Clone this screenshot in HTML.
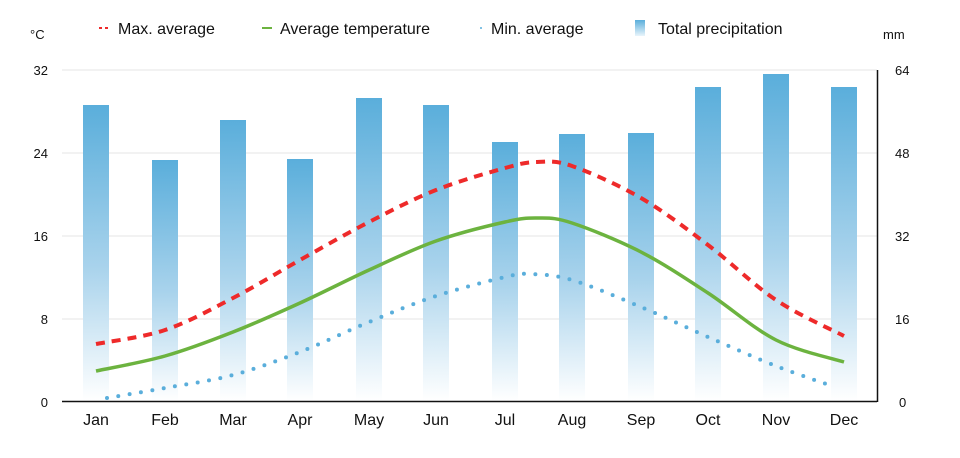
<!DOCTYPE html>
<html><head><meta charset="utf-8"><style>
html,body{margin:0;padding:0;background:#fff;width:960px;height:458px;overflow:hidden}
svg text{font-family:"Liberation Sans","DejaVu Sans",sans-serif;fill:#111}
</style></head><body>
<svg id="s" width="960" height="458" xmlns="http://www.w3.org/2000/svg">
<defs>
<linearGradient id="bg" x1="0" y1="0" x2="0" y2="1">
<stop offset="0" stop-color="#5aaedb"/><stop offset="0.55" stop-color="#a9d3ec"/><stop offset="1" stop-color="#ffffff"/>
</linearGradient>
<linearGradient id="lg" x1="0" y1="0" x2="0" y2="1">
<stop offset="0" stop-color="#5aaedb"/><stop offset="1" stop-color="#e8f4fb"/>
</linearGradient>
</defs>
<g stroke="#e6e6e6" stroke-width="1">
<line x1="62" y1="70" x2="877" y2="70"/><line x1="62" y1="153" x2="877" y2="153"/>
<line x1="62" y1="236" x2="877" y2="236"/><line x1="62" y1="319" x2="877" y2="319"/>
</g>
<g id="bars"></g>
<line x1="62" y1="401.5" x2="877" y2="401.5" stroke="#111" stroke-width="1.5"/>
<line x1="877.5" y1="70" x2="877.5" y2="402" stroke="#111" stroke-width="1.5"/>
<path id="pmax" fill="none" stroke="#ee2a2a" stroke-width="4" stroke-dasharray="9,7"/>
<path id="pavg" fill="none" stroke="#6cb33f" stroke-width="3.5"/>
<path id="pmin" fill="none" stroke="#5aaedb" stroke-width="4" stroke-dasharray="0,11.5" stroke-linecap="round"/>
<g font-size="13" text-anchor="end">
<text x="48" y="75">32</text><text x="48" y="158">24</text><text x="48" y="241">16</text><text x="48" y="324">8</text><text x="48" y="407">0</text>
</g>
<g font-size="13" text-anchor="start">
<text x="895" y="75">64</text><text x="895" y="158">48</text><text x="895" y="241">32</text><text x="895" y="324">16</text><text x="899" y="407">0</text>
</g>
<text x="30" y="39" font-size="13">°C</text>
<text x="883" y="39" font-size="13">mm</text>
<g font-size="16" text-anchor="middle" id="months"></g>
<line x1="99" y1="28" x2="111" y2="28" stroke="#ee2a2a" stroke-width="2" stroke-dasharray="3,3"/>
<text x="118" y="34" font-size="16">Max. average</text>
<line x1="262" y1="28" x2="272" y2="28" stroke="#6cb33f" stroke-width="2"/>
<text x="280" y="34" font-size="16">Average temperature</text>
<circle cx="481" cy="28" r="1" fill="#5aaedb"/>
<text x="491" y="34" font-size="16">Min. average</text>
<rect x="635" y="20" width="10" height="16" fill="url(#lg)"/>
<text x="658" y="34" font-size="16">Total precipitation</text>
</svg>
<script>
const xs=[96,165,233,300,369,436,505,572,641,708,776,844];
const tops=[105,160,120,159,98,105,142,134,133,87,74,87];
const names=["Jan","Feb","Mar","Apr","May","Jun","Jul","Aug","Sep","Oct","Nov","Dec"];
let b="",m="";
xs.forEach((x,i)=>{b+=`<rect x="${x-13}" y="${tops[i]}" width="26" height="${401-tops[i]}" fill="url(#bg)"/>`;
m+=`<text x="${x}" y="425">${names[i]}</text>`;});
document.getElementById("bars").innerHTML=b;
document.getElementById("months").innerHTML=m;
function cr(p){let d=`M${p[0][0]},${p[0][1]}`;for(let i=0;i<p.length-1;i++){const p0=p[i-1]||p[i],p1=p[i],p2=p[i+1],p3=p[i+2]||p2;
d+=`C${p1[0]+(p2[0]-p0[0])/6},${p1[1]+(p2[1]-p0[1])/6} ${p2[0]-(p3[0]-p1[0])/6},${p2[1]-(p3[1]-p1[1])/6} ${p2[0]},${p2[1]}`;}return d;}
document.getElementById("pmax").setAttribute("d",cr([[96,344],[165,330],[233,298],[300,260],[369,222],[436,190],[505,168],[537,162],[572,166],[641,198],[708,245],[776,300],[844,336]]));
document.getElementById("pavg").setAttribute("d",cr([[96,371],[165,356],[233,332],[300,303],[369,270],[436,241],[505,222],[538,218],[572,223],[641,252],[708,293],[776,340],[844,362]]));
document.getElementById("pmin").setAttribute("d",cr([[107,398],[165,388],[233,375],[300,352],[369,322],[436,296],[505,277],[530,274],[572,280],[641,307],[708,337],[776,366],[835,387]]));
</script>
</body></html>
